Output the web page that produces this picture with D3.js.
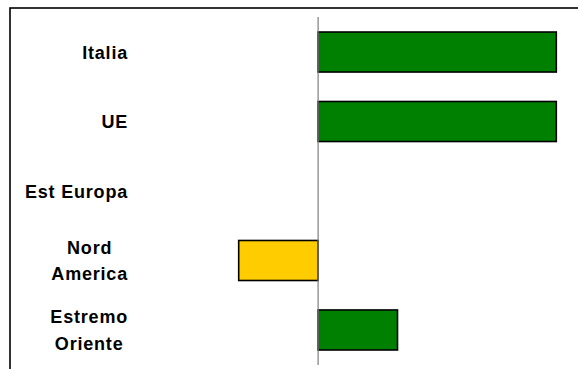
<!doctype html>
<html lang="it">
	<head>
		<meta charset="utf-8">
		<title>Aree</title>
		<style type="text/css">
			body {
				margin: 0;
				background-color: white;
			}
			svg {
				display: block;
				background-color: white;
			}
			.label {
				font-family: "Liberation Sans", Arial, sans-serif;
				font-weight: bold;
				font-size: 18px;
				letter-spacing: 0.8px;
				fill: black;
			}
			rect.bar {
				stroke: black;
				stroke-width: 1.6px;
			}
			.zero {
				stroke: #7f7f7f;
				stroke-width: 1.2px;
			}
		</style>
	</head>
	<body>
		<script src="https://cdnjs.cloudflare.com/ajax/libs/d3/7.8.5/d3.min.js"></script>
		<script type="text/javascript">
			// dati
			var categories = ["Italia", "UE", "Est Europa", "Nord\nAmerica", "Estremo\nOriente"];
			var values = [3, 3, 0, -1, 1];
			var barColors = ["#008000", "#008000", "#008000", "#ffcc00", "#008000"];

			var fullwidth = 578;
			var fullheight = 369;

			var svg = d3.select("body")
						.append("svg")
						.attr("width", fullwidth)
						.attr("height", fullheight);

			// cornice (tagliata a destra e in basso come nell'originale)
			svg.append("rect")
				.attr("x", 10)
				.attr("y", 8)
				.attr("width", 600)
				.attr("height", 400)
				.attr("fill", "none")
				.attr("stroke", "black")
				.attr("stroke-width", 1.6);

			var yScale = d3.scaleBand()
							.domain(categories)
							.range([17, 365])
							.paddingInner(0.424)
							.paddingOuter(0.216);

			var xScale = d3.scaleLinear()
							.domain([-1, 3])
							.range([238.7, 556.3]);

			var data = categories.map(function(c, i) {
				return { name: c, value: values[i], color: barColors[i] };
			});

			svg.selectAll("rect.bar")
				.data(data.filter(function(d) { return d.value !== 0; }))
				.enter()
				.append("rect")
				.attr("class", "bar")
				.attr("x", function(d) { return xScale(Math.min(0, d.value)); })
				.attr("y", function(d) { return yScale(d.name); })
				.attr("width", function(d) { return Math.abs(xScale(d.value) - xScale(0)); })
				.attr("height", yScale.bandwidth())
				.attr("fill", function(d) { return d.color; });

			// linea dello zero
			svg.append("line")
				.attr("class", "zero")
				.attr("x1", xScale(0))
				.attr("x2", xScale(0))
				.attr("y1", 17)
				.attr("y2", 365);

			// etichette: blocco allineato a destra, righe centrate tra loro
			var labelRight = 128;
			var lineHeight = 26.5;
			var labels = svg.selectAll("text.label")
				.data(data)
				.enter()
				.append("text")
				.attr("class", "label")
				.attr("text-anchor", "middle");

			labels.each(function(d) {
				var lines = d.name.split("\n");
				var t = d3.select(this);
				var cy = yScale(d.name) + yScale.bandwidth() / 2;
				var first = cy + 6.5 - (lines.length - 1) * lineHeight / 2;
				var maxW = 0;
				lines.forEach(function(l, i) {
					var sp = t.append("tspan").attr("x", 0).attr("y", first + i * lineHeight).text(l);
					maxW = Math.max(maxW, sp.node().getComputedTextLength());
				});
				t.selectAll("tspan").attr("x", labelRight - maxW / 2);
			});
		</script>
	</body>
</html>
